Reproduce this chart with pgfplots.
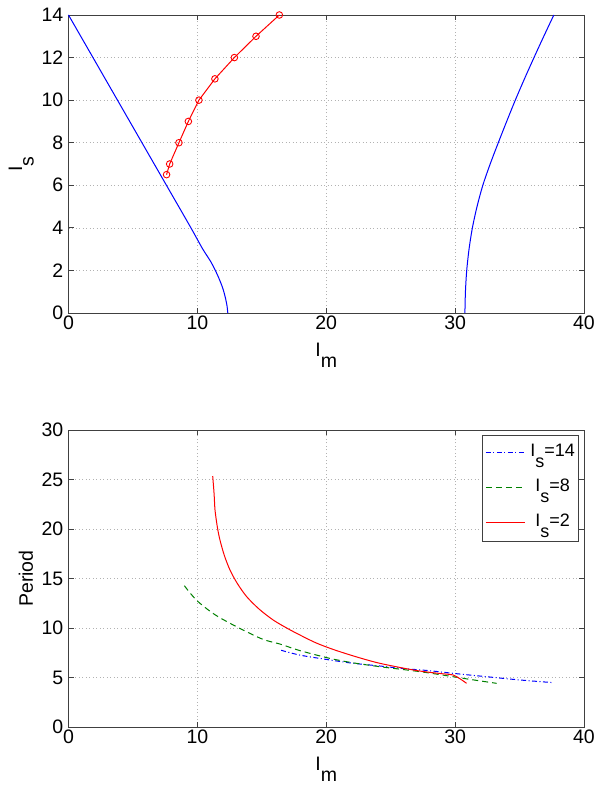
\documentclass[border=0pt]{standalone}
\usepackage{pgfplots}
\pgfplotsset{compat=1.18}
\usepackage{fontspec}
\setmainfont{Liberation Sans}
\newcommand\fs{\fontsize{19.5}{23}\selectfont}
\newcommand\lfs{\fontsize{18}{21}\selectfont}
\newcommand\sub[1]{\lower0.6em\hbox{#1}}
\definecolor{mblue}{rgb}{0,0,1}
\definecolor{mgreen}{rgb}{0,0.5,0}
\definecolor{mred}{rgb}{1,0,0}
\tikzset{
  dashdotB/.style={dash pattern=on 5pt off 2.5pt on 1pt off 2.5pt},
  dashG/.style={dash pattern=on 6pt off 4pt}}
\pgfplotsset{mstyle/.style={
  scale only axis, width=515.5pt, clip=false,
  xmin=0, xmax=40, xtick={0,10,20,30,40},
  axis line style={black!75, line width=0.8pt},
  tick style={black!75, line width=0.8pt},
  major tick length=5pt, tick align=inside,
  grid=major,
  grid style={gray!60, line width=0.6pt, dash pattern=on 1pt off 2.5pt},
  tick label style={font=\fs},
  /pgf/number format/assume math mode=true,
  xticklabel style={inner sep=0pt, yshift=-3pt},
  yticklabel style={inner sep=0pt, xshift=-5pt},
  label style={font=\fs},
  xlabel={I\sub{m}},
  xlabel style={at={(axis description cs:0.5,-0.1448)}, anchor=base},
}}
\begin{document}
\begin{tikzpicture}
\useasboundingbox (0,0) rectangle (600pt,788pt);
% top axis
\begin{axis}[mstyle, at={(68.5pt,475pt)}, anchor=south west, height=298pt,
  ymin=0, ymax=14, ytick={0,2,...,14},
  ylabel={I\sub{s}},
  ylabel style={at={(axis description cs:-0.0902,0.5)}, anchor=base}]
\addplot[mblue, line width=1pt, smooth, tension=0.5] coordinates {
 (0,14) (3.8,10) (7.6,6) (9.5,4) (10.4,3.02) (11.05,2.4) (11.55,1.8) (11.95,1.2) (12.18,0.7) (12.31,0.3) (12.36,0)};
\addplot[mblue, line width=1pt, smooth] coordinates {
 (30.76,0) (30.8,1) (30.9,2) (31.08,3) (31.34,4) (31.7,5) (32.15,6) (32.72,7) (33.35,8) (34.0,9) (34.67,10) (35.38,11) (36.12,12) (36.88,13) (37.66,14)};
\addplot[mred, line width=1pt, mark=o, mark size=3.3pt, mark options={solid, line width=0.9pt}] coordinates {
 (7.61,6.5) (7.85,7) (8.57,8) (9.30,9) (10.12,10) (11.36,11) (12.87,12) (14.55,13) (16.36,14)};
\end{axis}
% bottom axis
\begin{axis}[mstyle, at={(68.5pt,61pt)}, anchor=south west, height=297pt,
  ymin=0, ymax=30, ytick={0,5,...,30},
  ylabel={Period},
  ylabel style={at={(axis description cs:-0.0689,0.5)}, anchor=base},
  legend cell align=left,
  legend style={at={(1,1)}, anchor=north east, xshift=-6pt, yshift=-5pt, name=leg,
    draw=none, fill=white, font=\lfs, inner xsep=3pt, inner ysep=7.7pt,
    row sep=14pt, nodes={inner sep=0pt, text height=14pt, text depth=7pt, anchor=base},
    /tikz/every odd column/.append style={column sep=5pt}}]
\addplot[mblue, line width=1pt, dashdotB, smooth,
  legend image code/.code={\draw[color=mblue, draw=mblue, line width=1pt, dashdotB] (0pt,4pt) -- (39pt,4pt);}] coordinates {
 (16.5,7.75) (18,7.25) (20.29,6.77) (22,6.45) (24.17,6.16) (26,5.9) (27.9,5.7) (29.85,5.42) (32.44,5.08) (35.03,4.75) (37.6,4.48)};
\addlegendentry{I\sub{s}=14}
\addplot[mgreen, line width=1pt, dashG, smooth,
  legend image code/.code={\draw[color=mgreen, draw=mgreen, line width=1pt, dashG] (0pt,4pt) -- (39pt,4pt);}] coordinates {
 (8.99,14.27) (9.94,12.8) (11.3,11.4) (12.79,10.3) (15,8.9) (16.41,8.38) (18,7.7) (20.29,6.93) (22,6.5) (24.17,6.09) (27.27,5.59) (29.85,5.08) (31.15,4.81) (33.22,4.41)};
\addlegendentry{I\sub{s}=8}
\addplot[mred, line width=1pt, smooth, tension=0.5,
  legend image code/.code={\draw[color=mred, draw=mred, line width=1pt] (0pt,4pt) -- (39pt,4pt);}] coordinates {
 (11.19,25.35) (11.3,23.5) (11.37,21.9) (11.55,20.2) (11.75,18.9) (12.1,17.3) (12.53,15.86) (13.1,14.5) (13.83,13.16) (14.8,11.9) (15.89,10.8) (17,9.95) (17.96,9.29) (19.2,8.5) (20.55,7.83) (22.3,7.1) (24.17,6.43) (26.75,5.76) (28.05,5.52) (29.0,5.38) (29.85,5.25) (30.4,4.85) (30.89,4.41)};
\addlegendentry{I\sub{s}=2}
\end{axis}
\draw[black!75, line width=0.8pt] (leg.south west) rectangle (leg.north east);
\end{tikzpicture}
\end{document}
